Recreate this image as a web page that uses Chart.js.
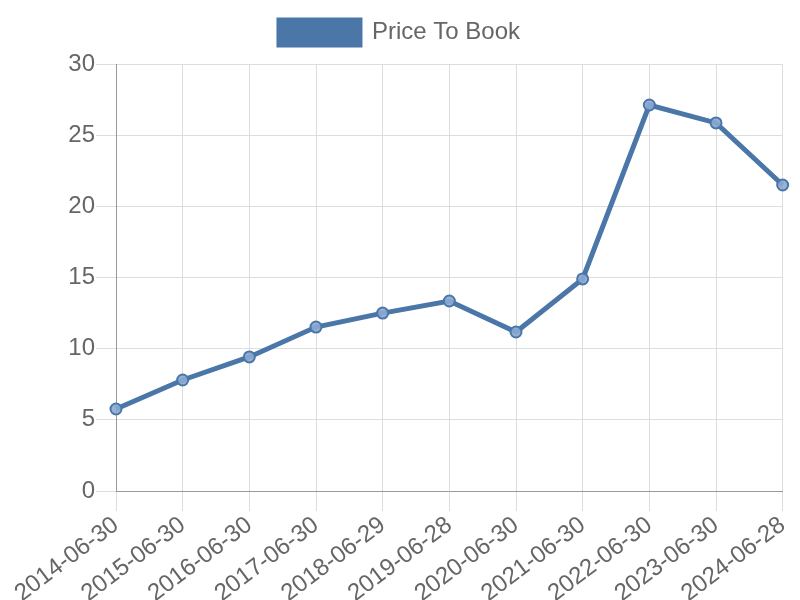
<!DOCTYPE html>
<html>
<head>
<meta charset="utf-8">
<script src="https://cdn.jsdelivr.net/npm/chart.js@4/dist/chart.umd.min.js"></script>
<style>
  html, body { margin: 0; padding: 0; background: #fff; }
</style>
</head>
<body>
<canvas id="chart" width="800" height="600"></canvas>
<script>
const dates = ["2014-06-30", "2015-06-30", "2016-06-30", "2017-06-30", "2018-06-29", "2019-06-28",
  "2020-06-30", "2021-06-30", "2022-06-30", "2023-06-30", "2024-06-28"];
const priceToBook = [5.76, 7.8, 9.42, 11.52, 12.5, 13.35, 11.17, 14.9, 27.12, 25.86, 21.5];
const yTicks = [0, 5, 10, 15, 20, 25, 30];

const lineColor = "#4a76a8";
const fontFamily = "'Liberation Sans', Arial, sans-serif";

// extra room between legend and plot area
const legendGap = {
  id: "legendGap",
  beforeInit(chart) {
    const fit = chart.legend.fit;
    chart.legend.fit = function () {
      fit.call(this);
      this.height += 9;
    };
  },
};

new Chart(document.getElementById("chart"), {
  type: "line",
  data: {
    labels: dates,
    datasets: [{
      label: "Price To Book",
      data: priceToBook,
      borderColor: lineColor,
      backgroundColor: lineColor,
      borderWidth: 5,
      pointRadius: 5.5,
      pointBorderWidth: 2,
      pointBackgroundColor: "rgba(140, 170, 210, 0.9)",
      pointBorderColor: lineColor,
      fill: false,
      tension: 0,
    }],
  },
  plugins: [legendGap],
  options: {
    responsive: false,
    animation: false,
    layout: { padding: { left: 8, right: 9, top: 10, bottom: 0 } },
    plugins: {
      legend: {
        labels: {
          boxWidth: 81,
          boxHeight: 25,
          color: "#666",
          font: { size: 24, family: fontFamily },
        },
      },
      tooltip: { enabled: false },
    },
    scales: {
      x: {
        grid: { color: "#ddd", tickLength: 20 },
        border: { color: "#999" },
        afterFit: (axis) => { axis.height = 109; },
        ticks: {
          color: "#666",
          padding: 0,
          minRotation: 37,
          maxRotation: 37,
          font: { size: 24, family: fontFamily },
        },
      },
      y: {
        min: yTicks[0],
        max: yTicks[yTicks.length - 1],
        grid: { color: "#ddd", tickLength: 20 },
        border: { color: "#999" },
        afterBuildTicks: (axis) => { axis.ticks = yTicks.map((v) => ({ value: v })); },
        afterFit: (axis) => { axis.width = 108; },
        ticks: {
          color: "#666",
          padding: 1,
          font: { size: 24, family: fontFamily },
        },
      },
    },
  },
});
</script>
</body>
</html>
